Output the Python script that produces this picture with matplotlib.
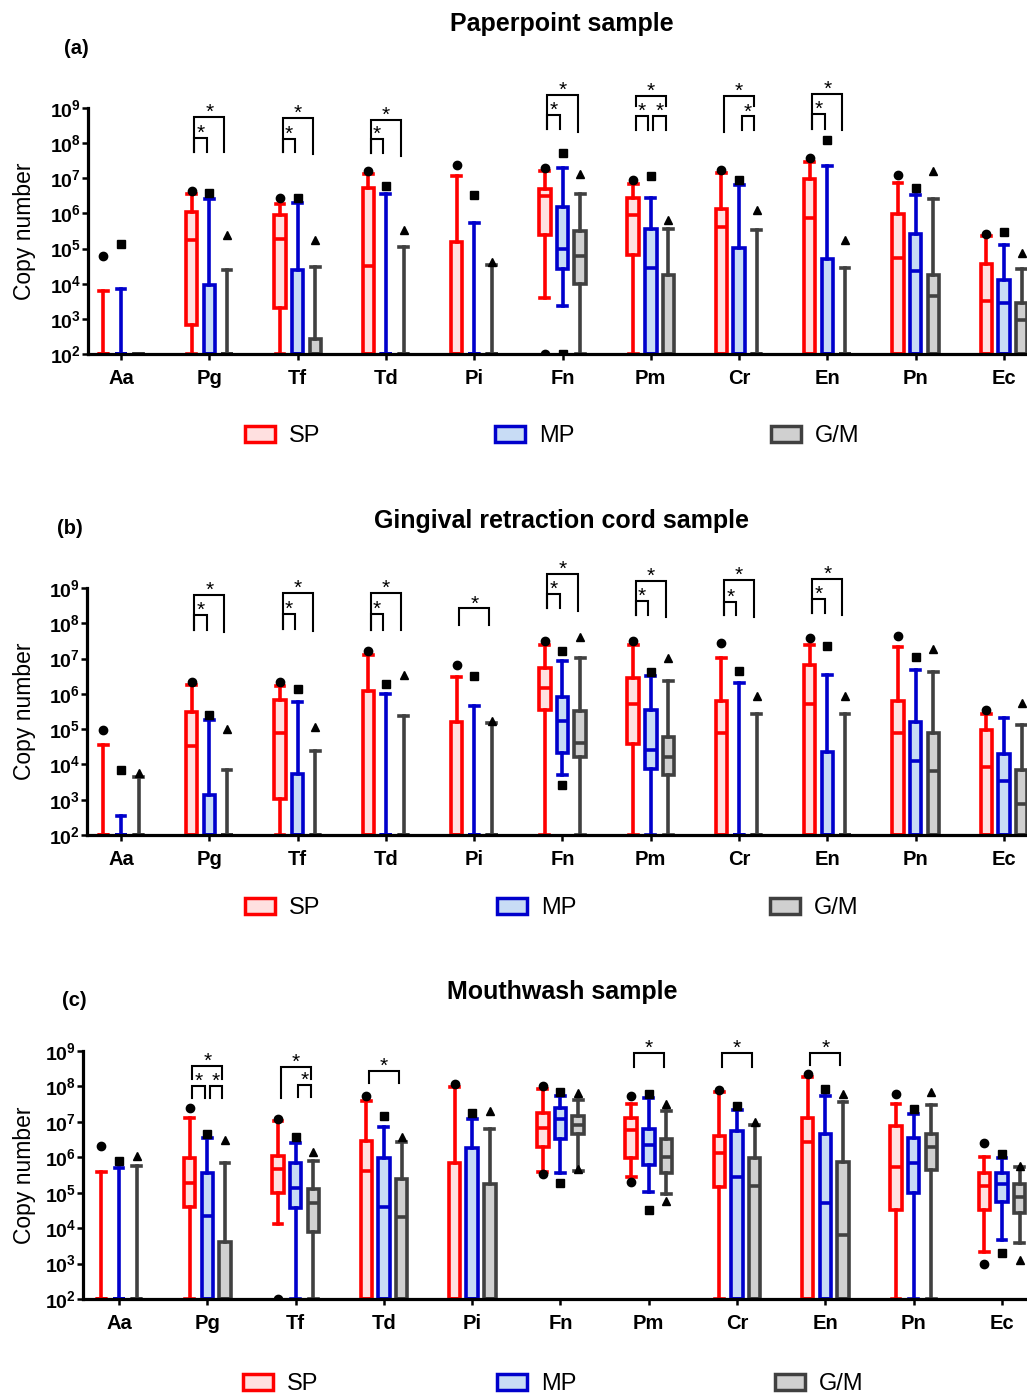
import numpy as np
import matplotlib
matplotlib.use("Agg")
import matplotlib.pyplot as plt
from matplotlib.patches import Patch
from matplotlib.ticker import FixedLocator, LogLocator, NullFormatter, FuncFormatter

plt.rcParams['font.family'] = ['Liberation Sans', 'DejaVu Sans']
plt.rcParams['mathtext.fontset'] = 'custom'
plt.rcParams['mathtext.rm'] = 'Liberation Sans'
plt.rcParams['mathtext.bf'] = 'Liberation Sans:bold'

# ---------------- data (log10 copy number; 2 = detection floor) ----------------
CATEGORIES = ['Aa', 'Pg', 'Tf', 'Td', 'Pi', 'Fn', 'Pm', 'Cr', 'En', 'Pn', 'Ec']
GROUPS = ['SP', 'MP', 'G/M']
TITLES = ['Paperpoint sample', 'Gingival retraction cord sample', 'Mouthwash sample']
TAGS = ['(a)', '(b)', '(c)']
N = None

# (a) paperpoint: rows = SP, MP, G/M
A_Q3 = [[2, 6.04, 5.96, 6.73, 5.19, 6.70, 6.45, 6.13, 6.97, 5.99, 4.55],
        [2, 3.96, 4.40, 2, 2, 6.18, 5.55, 5.02, 4.69, 5.42, 4.10],
        [2, 2, 2.42, 2, 2, 5.50, 4.24, 2, 2, 4.24, 3.46]]
A_MED = [[2, 5.25, 5.27, 4.51, 2, 6.51, 5.95, 5.61, 5.88, 4.74, 3.51],
         [2, 2, 2, 2, 2, 5.00, 4.46, 2, 2, 4.37, 3.46],
         [2, 2, 2, 2, 2, 4.78, 2, 2, 2, 3.65, 2.98]]
A_Q1 = [[2, 2.82, 3.30, 2, 2, 5.40, 4.83, 2, 2, 2, 2],
        [2, 2, 2, 2, 2, 4.43, 2, 2, 2, 2, 2],
        [2, 2, 2, 2, 2, 3.99, 2, 2, 2, 2, 2]]
A_WHI = [[3.80, 6.55, 6.28, 7.11, 7.06, 7.22, 6.84, 7.15, 7.46, 6.86, 5.35],
         [3.84, 6.42, 6.30, 6.54, 5.73, 7.29, 6.45, 6.82, 7.36, 6.53, 5.11],
         [2, 4.38, 4.48, 5.05, 4.53, 6.56, 5.55, 5.52, 4.46, 6.41, 4.41]]
A_WLO = [[2, 2, 2, 2, 2, 3.60, 2, 2, 2, 2, 2],
         [2, 2, 2, 2, 2, 3.36, 2, 2, 2, 2, 2],
         [2, 2, 2, 2, 2, 2, 2, 2, 2, 2, 2]]
A_FHI = [[4.79, 6.65, 6.44, 7.20, 7.38, 7.29, 6.94, 7.24, 7.58, 7.08, 5.42],
         [5.12, 6.59, 6.44, 6.77, 6.53, 7.71, 7.06, 6.96, 8.09, 6.73, 5.47],
         [N, 5.40, 5.25, 5.52, 4.62, 7.11, 5.80, 6.11, 5.24, 7.20, 4.88]]
A_FLO = [[N, N, N, N, N, 2, N, N, N, N, N],
         [N, N, N, N, N, 2, N, N, N, N, N],
         [N, N, N, N, N, N, N, N, N, N, N]]
# brackets: (category, group i, group j, top, leg end i, leg end j)
A_SIG = [(1, 0, 1, 8.15, 7.76, 7.76), (1, 0, 2, 8.74, 7.76, 7.74),
         (2, 0, 1, 8.12, 7.74, 7.74), (2, 0, 2, 8.72, 7.74, 7.70),
         (3, 0, 1, 8.12, 7.71, 7.71), (3, 0, 2, 8.66, 7.71, 7.62),
         (5, 0, 1, 8.80, 8.39, 8.39), (5, 0, 2, 9.37, 8.39, 8.33),
         (6, 0, 1, 8.78, 8.38, 8.38), (6, 1, 2, 8.78, 8.38, 8.38), (6, 0, 2, 9.35, 9.07, 9.07),
         (7, 1, 2, 8.76, 8.36, 8.36), (7, 0, 2, 9.35, 8.31, 9.07),
         (8, 0, 1, 8.83, 8.40, 8.40), (8, 0, 2, 9.40, 8.40, 8.36)]

# (b) gingival retraction cord
B_Q3 = [[2, 5.49, 5.82, 6.09, 5.19, 6.72, 6.44, 5.80, 6.83, 5.80, 4.97],
        [2, 3.13, 3.72, 2, 2, 5.90, 5.54, 2, 4.36, 5.21, 4.29],
        [2, 2, 2, 2, 2, 5.52, 4.78, 2, 2, 4.89, 3.84]]
B_MED = [[2, 4.53, 4.90, 2, 2, 6.18, 5.71, 4.88, 5.71, 4.90, 3.93],
         [2, 2, 2, 2, 2, 5.23, 4.42, 2, 2, 4.09, 3.53],
         [2, 2, 2, 2, 2, 4.61, 4.21, 2, 2, 3.82, 2.87]]
B_Q1 = [[2, 2, 3.01, 2, 2, 5.54, 4.57, 2, 2, 2, 2],
        [2, 2, 2, 2, 2, 4.31, 3.88, 2, 2, 2, 2],
        [2, 2, 2, 2, 2, 4.22, 3.71, 2, 2, 2, 2]]
B_WHI = [[4.54, 6.25, 6.22, 7.10, 6.48, 7.38, 7.38, 7.02, 7.38, 7.32, 5.42],
         [2.54, 5.27, 5.76, 6.01, 5.66, 6.94, 6.50, 6.31, 6.53, 6.69, 5.32],
         [3.65, 3.84, 4.37, 5.37, 5.16, 7.02, 6.37, 5.44, 5.44, 6.63, 5.13]]
B_WLO = [[2, 2, 2, 2, 2, 2, 2, 2, 2, 2, 2],
         [2, 2, 2, 2, 2, 3.69, 2, 2, 2, 2, 2],
         [2, 2, 2, 2, 2, 2, 2, 2, 2, 2, 2]]
B_FHI = [[4.97, 6.33, 6.33, 7.22, 6.82, 7.51, 7.51, 7.43, 7.59, 7.65, 5.54],
         [3.84, 5.39, 6.13, 6.27, 6.51, 7.22, 6.63, 6.65, 7.36, 7.05, N],
         [3.77, 5.00, 5.07, 6.53, 5.23, 7.62, 7.03, 5.95, 5.95, 7.26, 5.75]]
B_FLO = [[N, N, N, N, N, N, N, N, N, N, N],
         [N, N, N, N, N, 3.41, N, N, N, N, N],
         [N, N, N, N, N, N, N, N, N, N, N]]
B_SIG = [(1, 0, 1, 8.23, 7.81, 7.81), (1, 0, 2, 8.80, 7.81, 7.76),
         (2, 0, 1, 8.26, 7.83, 7.83), (2, 0, 2, 8.85, 7.83, 7.79),
         (3, 0, 1, 8.26, 7.81, 7.81), (3, 0, 2, 8.85, 7.81, 7.81),
         (4, 0, 2, 8.42, 7.95, 7.95),
         (5, 0, 1, 8.82, 8.42, 8.42), (5, 0, 2, 9.39, 8.42, 8.36),
         (6, 0, 1, 8.64, 8.23, 8.23), (6, 0, 2, 9.20, 8.23, 8.17),
         (7, 0, 1, 8.61, 8.23, 8.23), (7, 0, 2, 9.23, 8.23, 8.19),
         (8, 0, 1, 8.68, 8.28, 8.28), (8, 0, 2, 9.26, 8.28, 8.23)]

# (c) mouthwash
C_Q3 = [[2, 5.99, 6.03, 6.46, 5.85, 7.25, 7.12, 6.60, 7.12, 6.88, 5.56],
        [2, 5.57, 5.83, 5.99, 6.27, 7.40, 6.79, 6.74, 6.67, 6.55, 5.57],
        [2, 3.62, 5.11, 5.38, 5.26, 7.17, 6.51, 5.97, 5.86, 6.65, 5.26]]
C_MED = [[2, 5.28, 5.66, 5.61, 2, 6.83, 6.77, 6.11, 6.44, 5.73, 5.20],
         [2, 4.35, 5.12, 4.61, 2, 7.07, 6.34, 5.45, 4.70, 5.83, 5.25],
         [2, 2, 4.70, 4.31, 2, 6.92, 6.01, 5.19, 3.81, 6.30, 4.89]]
C_Q1 = [[2, 4.61, 4.98, 2, 2, 6.28, 5.97, 5.15, 2, 4.51, 4.50],
        [2, 2, 4.56, 2, 2, 6.51, 5.78, 2, 2, 4.98, 4.75],
        [2, 2, 3.90, 2, 2, 6.65, 5.56, 2, 2, 5.64, 4.42]]
C_WHI = [[5.59, 7.12, 7.03, 7.58, 7.97, 7.94, 7.50, 7.84, 8.27, 7.50, 6.00],
         [5.69, 6.55, 6.39, 6.86, 7.07, 7.72, 7.66, 7.33, 7.73, 7.23, 5.99],
         [5.75, 5.85, 5.89, 6.44, 6.79, 7.61, 7.30, 6.91, 7.56, 7.47, 5.73]]
C_WLO = [[2, 2, 4.11, 2, 2, 5.59, 5.45, 2, 2, 2, 3.34],
         [2, 2, 2, 2, 2, 5.56, 5.01, 2, 2, 2, 3.67],
         [2, 2, 2, 2, 2, 5.62, 4.96, 2, 2, 2, 3.58]]
C_FHI = [[6.32, 7.39, 7.07, 7.72, 8.08, 8.00, 7.72, 7.91, 8.34, 7.80, 6.39],
         [5.90, 6.65, 6.58, 7.16, 7.25, 7.84, 7.78, 7.44, 7.94, 7.36, 6.08],
         [6.05, 6.50, 6.14, 6.56, 7.30, 7.82, 7.50, 7.00, 7.80, 7.83, 5.75]]
C_FLO = [[N, N, 2, N, N, 5.53, 5.31, N, N, N, 2.99],
         [N, N, N, N, N, 5.28, 4.51, N, N, N, 3.31],
         [N, N, N, N, N, 5.66, 4.77, N, N, N, 3.11]]
C_SIG = [(1, 0, 1, 8.00, 7.68, 7.68), (1, 1, 2, 8.00, 7.68, 7.68), (1, 0, 2, 8.58, 8.22, 8.22),
         (2, 1, 2, 8.03, 7.70, 7.70), (2, 0, 2, 8.55, 7.68, 8.22),
         (3, 0, 2, 8.44, 8.10, 8.10),
         (6, 0, 2, 8.94, 8.55, 8.55),
         (7, 0, 2, 8.94, 8.55, 8.55),
         (8, 0, 2, 8.94, 8.61, 8.61)]

PANELS = [(A_Q1, A_MED, A_Q3, A_WLO, A_WHI, A_FHI, A_FLO, A_SIG),
          (B_Q1, B_MED, B_Q3, B_WLO, B_WHI, B_FHI, B_FLO, B_SIG),
          (C_Q1, C_MED, C_Q3, C_WLO, C_WHI, C_FHI, C_FLO, C_SIG)]

# ---------------- style / layout (pixels of a 1027x1396 canvas) ----------------
W, H = 1027, 1396
EDGE = ['#ff0000', '#0000cc', '#404040']
FACE = ['#ffe0e0', '#c8dcf5', '#d0d0d0']
MARKERS = ['o', 's', '^']
OFFSETS = [-0.2, 0.0, 0.2]
SPACING = 88.3
AX_TOP = [108, 588, 1051]
AX_BOT = [354, 835, 1299]
AX_LEFT = [88, 87, 83]
X_FIRST = [121, 121, 119]
TITLE_Y = [24, 521, 992]
TAG_XY = [(76, 48), (70, 529), (74, 1000)]
LEG_Y = [436, 908, 1384]
LEG_X = [[245, 495, 771], [245, 497, 770], [243, 497, 775]]
LW = 2.6


def fx(px):
    return px / W


def fy(py):
    return 1 - py / H


fig = plt.figure(figsize=(W / 100, H / 100), dpi=100)

for p, (q1, med, q3, wlo, whi, fhi, flo, sig) in enumerate(PANELS):
    ax = fig.add_axes([fx(AX_LEFT[p]), fy(AX_BOT[p]), fx(W - AX_LEFT[p]),
                       (AX_BOT[p] - AX_TOP[p]) / H])
    ax.set_yscale('log')
    x0 = -(X_FIRST[p] - AX_LEFT[p]) / SPACING
    ax.set_xlim(x0, x0 + (W - AX_LEFT[p]) / SPACING)
    ax.set_ylim(1e2, 1e9)

    for g in range(3):
        stats = []
        for i in range(len(CATEGORIES)):
            fl = [10 ** v for v in (fhi[g][i], flo[g][i]) if v is not None]
            stats.append(dict(med=10 ** med[g][i], q1=10 ** q1[g][i], q3=10 ** q3[g][i],
                              whislo=10 ** wlo[g][i], whishi=10 ** whi[g][i], fliers=fl))
        ax.bxp(stats, positions=np.arange(len(CATEGORIES)) + OFFSETS[g], widths=0.13,
               capwidths=0.1, patch_artist=True, showfliers=True, manage_ticks=False,
               boxprops=dict(facecolor=FACE[g], edgecolor=EDGE[g], linewidth=LW),
               medianprops=dict(color=EDGE[g], linewidth=LW, solid_capstyle='butt'),
               whiskerprops=dict(color=EDGE[g], linewidth=LW),
               capprops=dict(color=EDGE[g], linewidth=LW),
               flierprops=dict(marker=MARKERS[g], markerfacecolor='black',
                               markeredgecolor='black', markersize=6, linestyle='none'))

    for cat, gi, gj, top, bi, bj in sig:
        xa = cat + OFFSETS[gi] + 0.03
        xb = cat + OFFSETS[gj] - 0.03
        ax.plot([xa, xa, xb, xb], [10 ** bi, 10 ** top, 10 ** top, 10 ** bj],
                color='black', lw=1.5, clip_on=False, solid_joinstyle='miter')
        ax.text((xa + xb) / 2, 10 ** (top + 0.13), '*', ha='center', va='center',
                fontsize=15, clip_on=False)

    ax.spines['top'].set_visible(False)
    ax.spines['right'].set_visible(False)
    ax.spines['left'].set_linewidth(2.3)
    ax.spines['bottom'].set_linewidth(2.3)
    ax.yaxis.set_major_locator(FixedLocator([10.0 ** k for k in range(2, 10)]))
    ax.yaxis.set_major_formatter(FuncFormatter(
        lambda v, pos: r'$\mathbf{10^{%d}}$' % round(np.log10(v))))
    ax.yaxis.set_minor_locator(LogLocator(base=10, subs=np.arange(2, 10)))
    ax.yaxis.set_minor_formatter(NullFormatter())
    ax.tick_params(axis='y', which='major', length=4, width=1.8, labelsize=14, pad=1)
    ax.tick_params(axis='y', which='minor', length=2.5, width=1.2)
    ax.set_xticks(np.arange(len(CATEGORIES)))
    ax.set_xticklabels(CATEGORIES, fontweight='bold')
    ax.tick_params(axis='x', length=4, width=1.8, labelsize=14.5, pad=7)

    fig.text(fx(25), fy((AX_TOP[p] + AX_BOT[p]) / 2), 'Copy number', rotation=90,
             ha='center', va='center', fontsize=16.5)
    fig.text(fx(562), fy(TITLE_Y[p]), TITLES[p], ha='center', va='center',
             fontsize=18, fontweight='bold')
    fig.text(fx(TAG_XY[p][0]), fy(TAG_XY[p][1]), TAGS[p], ha='center', va='center',
             fontsize=14.5, fontweight='bold')

    for g in range(3):
        h = Patch(facecolor=FACE[g], edgecolor=EDGE[g], linewidth=2.5)
        fig.legend(handles=[h], labels=[GROUPS[g]], loc='center left',
                   bbox_to_anchor=(fx(LEG_X[p][g]), fy(LEG_Y[p])), frameon=False,
                   borderpad=0, borderaxespad=0, handlelength=1.27, handleheight=0.68,
                   handletextpad=0.6,
                   prop=dict(family=['Liberation Sans Narrow', 'Liberation Sans'], size=17))

fig.savefig('out.png', dpi=100)
